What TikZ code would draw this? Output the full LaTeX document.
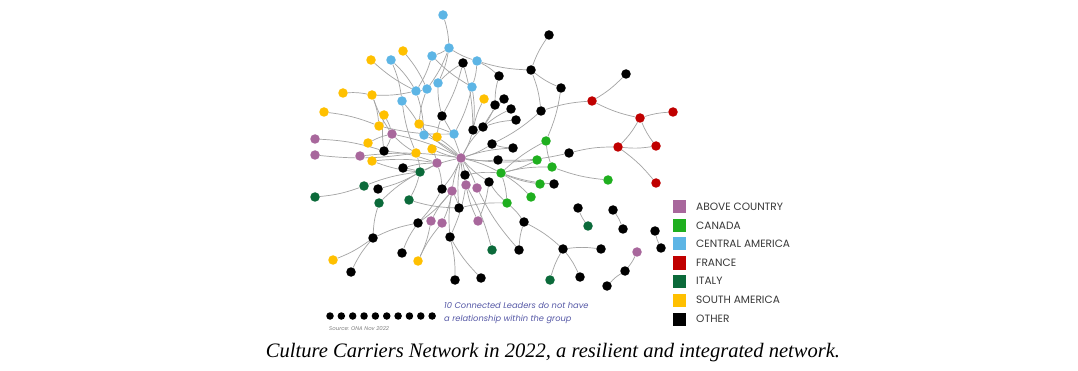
\documentclass[tikz,border=0pt]{standalone}
\usepackage{fontspec}
\setmainfont{Liberation Serif}
\newfontfamily\legfont{Poppins}
\definecolor{cab}{HTML}{A8679C}
\definecolor{cca}{HTML}{1FAF1F}
\definecolor{ccm}{HTML}{5DB5E5}
\definecolor{cfr}{HTML}{C00000}
\definecolor{cit}{HTML}{0B6A3A}
\definecolor{csa}{HTML}{FFC000}
\definecolor{coth}{HTML}{000000}
\definecolor{edgec}{HTML}{A4A4A4}
\definecolor{notec}{HTML}{5558A6}
\pgfdeclarelayer{bglayer}
\pgfdeclarelayer{edgelayer}
\pgfsetlayers{bglayer,edgelayer,main}
\tikzset{
  nd/.style={circle,inner sep=0pt,minimum size=9.5pt},
  nab/.style={nd,fill=cab},
  nca/.style={nd,fill=cca},
  ncm/.style={nd,fill=ccm},
  nfr/.style={nd,fill=cfr},
  nit/.style={nd,fill=cit},
  nsa/.style={nd,fill=csa},
  noth/.style={nd,fill=coth},
  dotnd/.style={circle,inner sep=0pt,minimum size=7.5pt,fill=black},
  edge/.style={draw=edgec,line width=0.7pt},
  legsq/.style={rectangle,inner sep=0pt,minimum size=13pt},
  legtxt/.style={anchor=west,inner sep=0pt,font=\legfont\fontsize{10.6}{12}\selectfont,text=black!78},
}
\begin{document}
\begin{tikzpicture}[x=1pt,y=-1pt]
\begin{pgfonlayer}{bglayer}
\fill[white] (0,0) rectangle (1078,371);
\end{pgfonlayer}
\useasboundingbox (0,0) rectangle (1078,371);
% Central America
\node[ncm] (B1) at (443,15) {};
\node[ncm] (B2) at (449,48) {};
\node[ncm] (B3) at (432,56) {};
\node[ncm] (B4) at (391,60) {};
\node[ncm] (B5) at (477,61) {};
\node[ncm] (B6) at (438,83) {};
\node[ncm] (B7) at (472,87) {};
\node[ncm] (B8) at (427,89) {};
\node[ncm] (B9) at (416,91) {};
\node[ncm] (B10) at (402,101) {};
\node[ncm] (B11) at (424,135) {};
\node[ncm] (B12) at (454,134) {};
% South America
\node[nsa] (Y1) at (403,51) {};
\node[nsa] (Y2) at (371,60) {};
\node[nsa] (Y3) at (343,93) {};
\node[nsa] (Y4) at (372,95) {};
\node[nsa] (Y5) at (324,112) {};
\node[nsa] (Y6) at (384,115) {};
\node[nsa] (Y7) at (379,126) {};
\node[nsa] (Y8) at (419,124) {};
\node[nsa] (Y9) at (437,137) {};
\node[nsa] (Y10) at (368,143) {};
\node[nsa] (Y11) at (432,149) {};
\node[nsa] (Y12) at (416,153) {};
\node[nsa] (Y13) at (372,161) {};
\node[nsa] (Y14) at (484,99) {};
\node[nsa] (Y15) at (333,260) {};
\node[nsa] (Y16) at (418,261) {};
% Above country
\node[nab] (P1) at (315,139) {};
\node[nab] (P2) at (315,155) {};
\node[nab] (P3) at (392,134) {};
\node[nab] (P4) at (360,156) {};
\node[nab] (P5) at (437,163) {};
\node[nab] (P6) at (461,158) {};
\node[nab] (P7) at (466,185) {};
\node[nab] (P8) at (477,188) {};
\node[nab] (P9) at (452,191) {};
\node[nab] (P10) at (431,221) {};
\node[nab] (P11) at (442,223) {};
\node[nab] (P12) at (478,221) {};
\node[nab] (P13) at (637,252) {};
% France
\node[nfr] (R1) at (592,101) {};
\node[nfr] (R2) at (640,118) {};
\node[nfr] (R3) at (673,112) {};
\node[nfr] (R4) at (618,147) {};
\node[nfr] (R5) at (656,146) {};
\node[nfr] (R6) at (656,183) {};
% Canada
\node[nca] (G1) at (546,141) {};
\node[nca] (G2) at (537,160) {};
\node[nca] (G3) at (552,167) {};
\node[nca] (G4) at (501,173) {};
\node[nca] (G5) at (540,184) {};
\node[nca] (G6) at (531,197) {};
\node[nca] (G7) at (507,203) {};
\node[nca] (G8) at (608,180) {};
% Italy
\node[nit] (D1) at (420,172) {};
\node[nit] (D2) at (364,186) {};
\node[nit] (D3) at (315,197) {};
\node[nit] (D4) at (379,203) {};
\node[nit] (D5) at (409,200) {};
\node[nit] (D6) at (492,250) {};
\node[nit] (D7) at (588,226) {};
\node[nit] (D8) at (550,280) {};
% Other
\node[noth] (K1) at (549,35) {};
\node[noth] (K2) at (463,63) {};
\node[noth] (K3) at (499,76) {};
\node[noth] (K4) at (531,70) {};
\node[noth] (K5) at (561,88) {};
\node[noth] (K6) at (626,74) {};
\node[noth] (K7) at (504,99) {};
\node[noth] (K8) at (495,105) {};
\node[noth] (K9) at (511,109) {};
\node[noth] (K10) at (541,111) {};
\node[noth] (K11) at (516,120) {};
\node[noth] (K12) at (442,116) {};
\node[noth] (K13) at (473,130) {};
\node[noth] (K14) at (483,127) {};
\node[noth] (K15) at (492,144) {};
\node[noth] (K16) at (513,148) {};
\node[noth] (K17) at (569,153) {};
\node[noth] (K18) at (498,160) {};
\node[noth] (K19) at (384,151) {};
\node[noth] (K20) at (403,168) {};
\node[noth] (K21) at (465,175) {};
\node[noth] (K22) at (489,182) {};
\node[noth] (K23) at (554,184) {};
\node[noth] (K24) at (442,189) {};
\node[noth] (K25) at (378,189) {};
\node[noth] (K26) at (459,208) {};
\node[noth] (K27) at (524,222) {};
\node[noth] (K28) at (418,223) {};
\node[noth] (K29) at (373,238) {};
\node[noth] (K30) at (450,237) {};
\node[noth] (K31) at (402,253) {};
\node[noth] (K32) at (351,272) {};
\node[noth] (K33) at (455,280) {};
\node[noth] (K34) at (481,278) {};
\node[noth] (K35) at (519,250) {};
\node[noth] (K36) at (563,249) {};
\node[noth] (K37) at (601,249) {};
\node[noth] (K38) at (580,277) {};
\node[noth] (K39) at (578,208) {};
\node[noth] (K40) at (613,210) {};
\node[noth] (K41) at (623,229) {};
\node[noth] (K42) at (655,231) {};
\node[noth] (K43) at (661,248) {};
\node[noth] (K44) at (625,271) {};
\node[noth] (K45) at (607,286) {};
% edges
\begin{pgfonlayer}{edgelayer}
\foreach \a/\b in {B1/B2,B2/B3,B2/B6,B2/B8,B3/B9,B4/B10,B4/B9,Y1/B8,Y3/Y4,Y4/Y7,Y5/Y7,Y6/P3,
  B5/B7,B5/K3,K2/K12,K2/K13,B8/B9,B9/B11,B10/B11,B7/K13,B7/B12,P3/P6,P3/K19,Y9/P6,
  B11/P6,K12/P6,Y10/P3,Y13/P5,P1/K19,P4/P6,K19/P5,Y12/D1,Y11/P5,K13/P6,K14/K7,K14/K9,
  K14/K11,K13/K14,K15/P6,K18/P6,K10/R1,K4/K1,K5/G1,R2/R3,R2/R4,R4/R6,G4/G1,G4/G3,G4/G6,
  G4/G7,G2/P6,K22/P6,G7/K27,K27/K36,K36/K37,K36/K38,K40/K41,P13/K44,P7/P6,P9/P6,P9/K28,
  P9/P11,P9/K26,P7/D6,K26/P6,K30/K33,D1/P6,D1/K25,D1/D5,D2/D3,K29/Y15,K29/K28,P10/Y16,
  K20/D1,K20/P5,Y8/B12}
  \draw[edge] (\a) to[bend left=7] (\b);
\foreach \a/\b in {B2/B5,B3/B7,Y2/B9,Y4/B9,Y4/P3,Y6/K19,B5/K4,K2/B6,B6/K12,B8/Y8,B10/Y12,
  Y7/B12,Y8/P6,P3/Y12,K12/Y9,P2/Y12,Y14/K13,K3/K8,K14/K8,K14/P6,K15/K16,K15/K10,K16/P6,
  K18/K17,K10/K4,K4/K5,R1/K6,R1/R2,R2/R5,R4/R5,R4/K17,G3/G8,G4/P6,G4/G2,G4/G5,G4/K23,
  G4/K21,G1/G3,K21/P6,K22/G7,G7/K26,K27/K35,K36/D8,K39/D7,K42/K43,K44/K45,P8/P6,P9/K24,
  P9/P10,P9/K30,P7/P12,P8/K35,K24/P5,K24/P6,K30/K34,K30/P7,D1/D2,D1/D4,D1/P5,D4/K29,
  K29/K32,K28/K31,K28/K24,P11/Y16,D5/K26,Y13/D1,Y11/P6,P12/K22}
  \draw[edge] (\a) to[bend right=7] (\b);
\end{pgfonlayer}
% legend
\node[legsq,fill=cab] (L1) at (679,207) {};
\node[legsq,fill=cca] (L2) at (679,226) {};
\node[legsq,fill=ccm] (L3) at (679,244) {};
\node[legsq,fill=cfr] (L4) at (679,263) {};
\node[legsq,fill=cit] (L5) at (679,281) {};
\node[legsq,fill=csa] (L6) at (679,300) {};
\node[legsq,fill=coth] (L7) at (679,319) {};
\node[legtxt] (T1) at (696,207) {ABOVE COUNTRY};
\node[legtxt] (T2) at (696,226) {CANADA};
\node[legtxt] (T3) at (696,244) {CENTRAL AMERICA};
\node[legtxt] (T4) at (696,263) {FRANCE};
\node[legtxt] (T5) at (696,281) {ITALY};
\node[legtxt] (T6) at (696,300) {SOUTH AMERICA};
\node[legtxt] (T7) at (696,319) {OTHER};
% isolated leaders
\foreach \i in {0,...,9}
  \node[dotnd] (I\i) at ({330+11.35*\i},316) {};
\node[anchor=west,inner sep=0pt,align=left,text=notec,
  font=\legfont\itshape\fontsize{8.3}{13}\selectfont] (note) at (444,313.5)
  {10 Connected Leaders do not have\\a relationship within the group};
\node[anchor=west,inner sep=0pt,text=black!50,
  font=\legfont\itshape\fontsize{5.4}{6}\selectfont] (src) at (329,328.5) {Source: ONA Nov 2022};
% caption
\node[inner sep=0pt] (cap) at (553,353)
  {\resizebox{574pt}{!}{\itshape Culture Carriers Network in 2022, a resilient and integrated network.}};
\end{tikzpicture}
\end{document}
